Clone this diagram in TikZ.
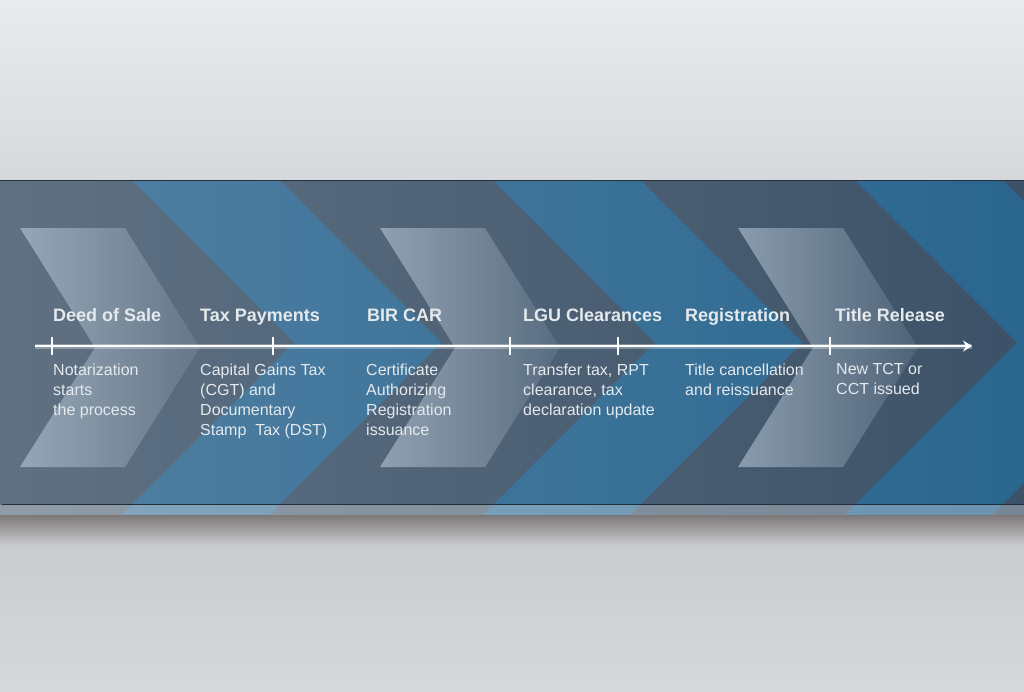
\documentclass[tikz,border=0pt]{standalone}
\usepackage{tikz}
\usepackage{xcolor}
\usepackage{fontspec}
\setmainfont{Liberation Sans}
\usetikzlibrary{arrows.meta,fadings}

\definecolor{bgtop}{HTML}{E9EBED}
\definecolor{bgmid}{HTML}{D6D8DB}
\definecolor{bgbot}{HTML}{D6D8DA}
\definecolor{shadowgray}{HTML}{7E7878}
\definecolor{slate}{HTML}{3D5268}
\definecolor{steel}{HTML}{2B668F}
\definecolor{glass}{HTML}{D2E2EF}
\definecolor{inkwhite}{HTML}{E4E9ED}

\tikzfading[name=glassfade, left color=transparent!52, right color=transparent!90]
\tikzfading[name=leftlight, left color=transparent!82, right color=transparent!100]

\begin{document}
\begin{tikzpicture}[x=1pt, y=-1pt,
    title/.style={anchor=base west, inner sep=0pt, text=inkwhite, font=\fontsize{18}{20}\selectfont\bfseries},
    desc/.style={anchor=north west, inner sep=0pt, align=left, text=inkwhite, font=\fontsize{16}{20}\selectfont},
    tick/.style={white, line width=1.6pt},
    timeline/.style={white, line width=2pt, -{Stealth[length=9pt,width=11pt,inset=3pt]}}]
  \useasboundingbox (0,0) rectangle (1024,691);

  % Wall behind the board
  \shade[top color=bgtop, bottom color=bgmid] (0,0) rectangle (1024,180);
  \shade[top color=shadowgray, bottom color=bgmid!94!black] (0,515) rectangle (1024,545);
  \shade[top color=bgmid!94!black, bottom color=bgbot] (0,545) rectangle (1024,691);

  % Board with chevron stripes
  \begin{scope}
    \clip (0,180) rectangle (1024,515);
    \fill[slate] (0,180) rectangle (1024,515);
    \foreach \s in {132,493,855}
      \fill[steel] (\s,180) -- ++(147.5,0) -- ++(162,162.5) -- ++(-172.5,172.5) -- ++(-147.5,0) -- ++(172.5,-172.5) -- cycle;
    \fill[white, path fading=leftlight] (0,180) rectangle (1024,515);
    % glass chevrons
    \foreach \l in {20,380,738}
      \fill[glass, path fading=glassfade] (\l,228) -- ++(105,0) -- ++(75,119.5) -- ++(-75,119.5) -- ++(-105,0) -- ++(75,-119.5) -- cycle;
    % lip along the bottom
    \fill[white, opacity=0.3] (0,505) rectangle (1024,515);
  \end{scope}
  \draw[slate!60!black, line width=1pt] (0,180.5) -- (1024,180.5);
  \draw[slate!55!black, line width=1.2pt] (2,504.5) -- (1024,504.5);

  % Timeline with milestone ticks
  \coordinate (tl-start) at (35,346);
  \coordinate (tl-end) at (972,346);
  \draw[white, opacity=0.3, line width=5pt] (tl-start) -- (tl-end);
  \draw[timeline] (tl-start) -- (tl-end);
  \foreach \x [count=\i] in {52,273,510,618,830}
    \coordinate (m\i) at (\x,346);
  \foreach \i in {1,...,5}
    \draw[tick] (m\i) ++(0,-9) -- ++(0,18);

  % Step titles
  \node[title] (deed) at (53,321) {Deed of Sale};
  \node[title] (tax) at (200,321) {Tax Payments};
  \node[title] (bircar) at (367,321) {BIR CAR};
  \node[title] (lgu) at (523,321) {LGU Clearances};
  \node[title] (reg) at (685,321) {Registration};
  \node[title] (release) at (835,321) {Title Release};

  % Step descriptions
  \node[desc] (deed-d) at (53,363.5) {Notarization\\starts\\the process};
  \node[desc] (tax-d) at (200,363.5) {Capital Gains Tax\\(CGT) and\\Documentary\\Stamp~ Tax (DST)};
  \node[desc] (bircar-d) at (366,363.5) {Certificate\\Authorizing\\Registration\\issuance};
  \node[desc] (lgu-d) at (523,363.5) {Transfer tax, RPT\\clearance, tax\\declaration update};
  \node[desc] (reg-d) at (685,363.5) {Title cancellation\\and reissuance};
  \node[desc] (release-d) at (836,363.5) {New TCT or\\CCT issued};
\end{tikzpicture}
\end{document}
